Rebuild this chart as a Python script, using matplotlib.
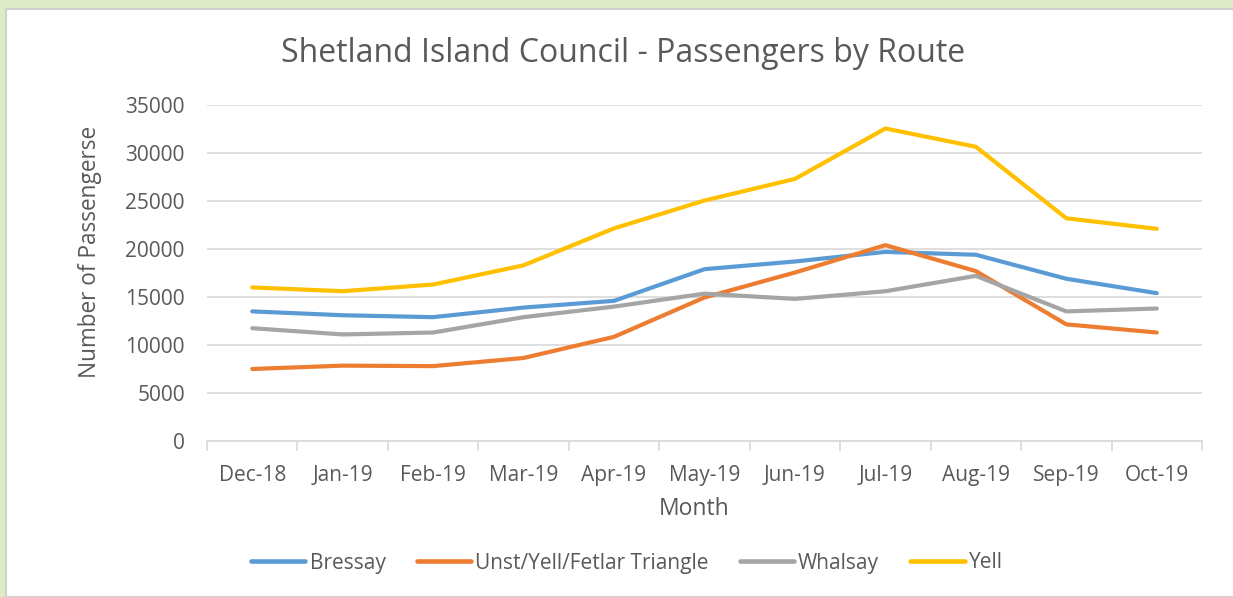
import matplotlib
matplotlib.use("Agg")
import matplotlib.pyplot as plt
from matplotlib.patches import Rectangle
import numpy as np

months = ["Dec-18", "Jan-19", "Feb-19", "Mar-19", "Apr-19", "May-19",
          "Jun-19", "Jul-19", "Aug-19", "Sep-19", "Oct-19"]
bressay = [13500, 13100, 12900, 13900, 14600, 17900, 18700, 19700, 19400, 16900, 15400]
unst = [7500, 7850, 7800, 8650, 10850, 14950, 17550, 20400, 17700, 12150, 11300]
whalsay = [11750, 11100, 11300, 12900, 14000, 15350, 14800, 15600, 17200, 13500, 13800]
yell = [16000, 15600, 16300, 18300, 22150, 25050, 27300, 32550, 30650, 23200, 22100]
yticks = [0, 5000, 10000, 15000, 20000, 25000, 30000, 35000]

plt.rcParams['font.family'] = ['Open Sans', 'DejaVu Sans']
txt = '#595959'

fig = plt.figure(figsize=(12.33, 5.97), dpi=100)
fig.patch.set_facecolor('#DDEBC7')
fig.patches.append(Rectangle((6/1233, 0), 1.0, 1 - 9/597, transform=fig.transFigure,
                             facecolor='white', edgecolor='#D0D0D0', linewidth=1.5, zorder=-5))

ax = fig.add_axes([207/1233, 1 - 441/597, (1202 - 207)/1233, (441 - 105)/597])
ax.set_facecolor('none')
x = np.arange(len(months))
series = [("Bressay", bressay, '#5B9BD5'),
          ("Unst/Yell/Fetlar Triangle", unst, '#ED7D31'),
          ("Whalsay", whalsay, '#A5A5A5'),
          ("Yell", yell, '#FFC000')]
for name, vals, col in series:
    ax.plot(x, vals, color=col, lw=3.0, label=name, solid_capstyle='round', solid_joinstyle='round')

ax.set_xlim(-0.5, len(months) - 0.5)
ax.set_ylim(0, 35000)
ax.set_yticks(yticks)
ax.set_yticklabels([str(v) for v in yticks])
ax.set_xticks(x)
ax.set_xticklabels(months)
ax.set_xticks(np.arange(-0.5, len(months)), minor=True)
ax.tick_params(axis='x', which='major', length=0, pad=17, labelsize=15, labelcolor=txt)
ax.tick_params(axis='x', which='minor', length=7, width=1.2, color='#D9D9D9')
ax.tick_params(axis='y', length=0, pad=16, labelsize=15, labelcolor=txt)
ax.grid(axis='y', color='#D9D9D9', lw=1.2)
ax.set_axisbelow(True)
for s in ['top', 'right', 'left']:
    ax.spines[s].set_visible(False)
ax.spines['bottom'].set_color('#D9D9D9')
ax.spines['bottom'].set_linewidth(1.2)

ax.set_xlabel("Month", fontsize=16.5, color=txt)
ax.xaxis.label.set_va('center')
ax.xaxis.set_label_coords((694.5 - 207) / 995, (441 - 509) / 336)
ax.set_ylabel("Number of Passengerse", fontsize=16.3, color=txt)
ax.yaxis.label.set_va('center')
ax.yaxis.set_label_coords((90 - 207) / 995, (441 - 251.5) / 336)
fig.text(623/1233, 1 - 53/597, "Shetland Island Council - Passengers by Route",
         ha='center', va='center', fontsize=23, color=txt)

leg = fig.legend(loc='center', bbox_to_anchor=(627/1233, 1 - 563/597), ncol=4, frameon=False,
                 fontsize=15, handlelength=2.6, columnspacing=1.5, handletextpad=0.2)
for t in leg.get_texts():
    t.set_color(txt)
for h in leg.legend_handles:
    h.set_linewidth(3.3)

fig.savefig("out.png", dpi=100, facecolor=fig.get_facecolor())
